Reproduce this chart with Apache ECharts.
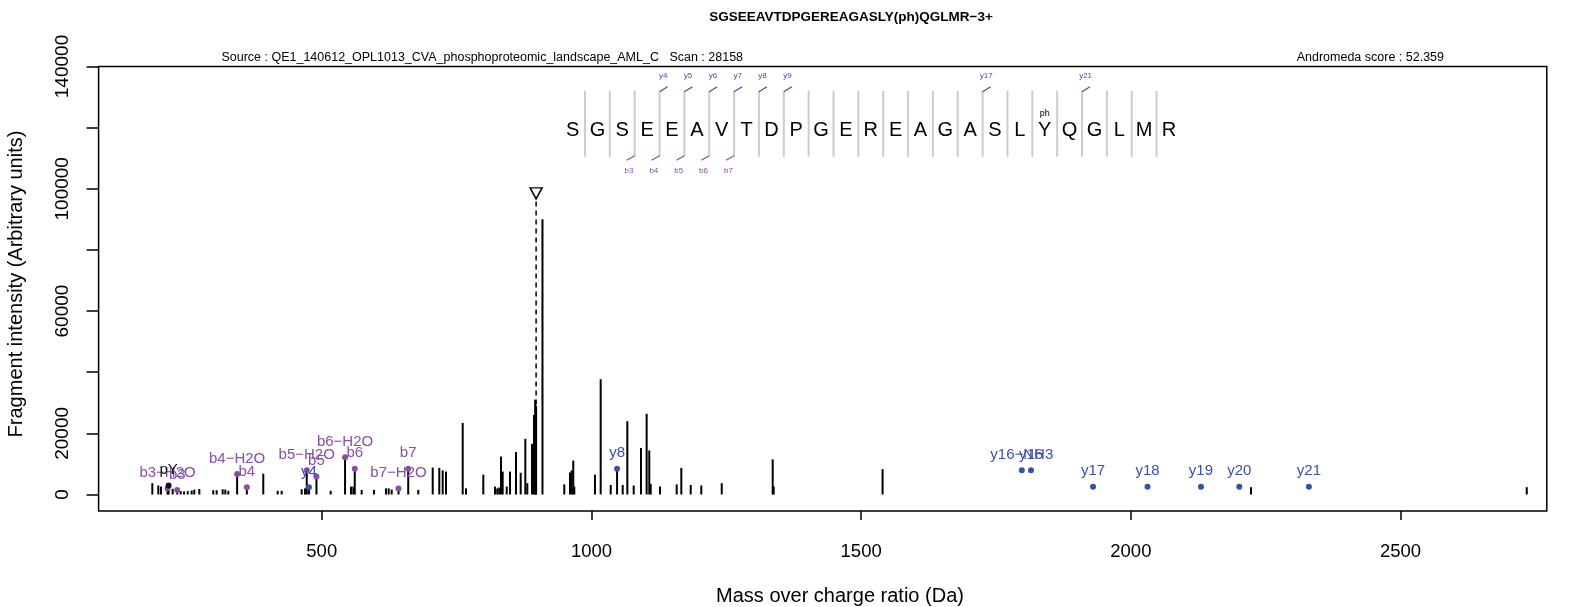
<!DOCTYPE html>
<html>
<head>
<meta charset="utf-8">
<script src="https://cdn.jsdelivr.net/npm/echarts@6/dist/echarts.min.js"></script>
<style>
html, body { margin: 0; padding: 0; background: #fff; }
#spectrum { width: 1578px; height: 607px; }
</style>
</head>
<body>
<div id="spectrum"></div>
<script>
// peptide + scan info
var peptide = ['S','G','S','E','E','A','V','T','D','P','G','E','R','E','A','G','A','S','L','Y','Q','G','L','M','R'];
var phosphoSite = 19;              // index of the Y carrying "ph"
var seqYIons = [4, 5, 6, 7, 8, 9, 17, 21];
var seqBIons = [3, 4, 5, 6, 7];

// raw peaks (m/z , intensity)
var peakMz = [185.9, 197.0, 202.0, 214.1, 216.0, 223.6, 232.1, 238.5, 244.6, 251.5, 258.8, 263.7, 273.0,
  298.9, 305.2, 316.3, 321.2, 326.7, 343.1, 361.1, 391.6, 418.3, 425.7, 462.8, 468.9, 472.2, 476.3, 490.2,
  516.5, 543.2, 554.2, 558.5, 561.2, 574.0, 596.8, 619.1, 624.1, 629.6, 642.3, 660.3, 679.0, 705.7, 717.9,
  724.2, 730.3, 761.3, 767.4, 799.5, 821.2, 825.4, 829.1, 832.3, 835.4, 842.9, 849.0, 860.1, 868.8, 877.4,
  881.1, 889.8, 893.5, 895.6, 897.4, 909.2, 949.6, 960.2, 963.3, 966.3, 968.2, 1006.5, 1017.1, 1035.7,
  1047.5, 1057.9, 1066.5, 1078.3, 1091.8, 1102.3, 1107.2, 1109.8, 1127.1, 1158.0, 1166.6, 1184.0, 1203.6,
  1241.5, 1336.0, 1337.8, 1539.7, 2222.7, 2733.9];
var peakIntensity = [3700, 2950, 2600, 2000, 2950, 1860, 1500, 1100, 1000, 1100, 1300, 1600, 1800,
  1400, 1400, 1700, 1600, 1200, 6700, 2400, 6800, 1200, 1200, 1700, 2000, 7900, 2400, 5900,
  1200, 12200, 2600, 2600, 8400, 1500, 1500, 2000, 2000, 1600, 2000, 8400, 1500, 8800, 8700,
  7900, 7500, 23400, 2000, 6500, 2600, 2000, 2300, 12400, 7500, 2600, 7500, 13900, 7100, 18200,
  3700, 16600, 26000, 31000, 29000, 90000, 3300, 7200, 7900, 11100, 2600, 6500, 37700, 3100,
  8400, 3100, 24000, 2950, 15200, 26400, 14400, 3500, 2600, 3300, 8700, 3100, 2950,
  3700, 11500, 2600, 8300, 2400, 2400];

// annotated fragments
var bIonNames = ['b3-H2O', 'b3', 'b4-H2O', 'b4', 'b5-H2O', 'b5', 'b6-H2O', 'b6', 'b7-H2O', 'b7'];
var bIonMz = [214.08, 232.09, 343.12, 361.13, 472.16, 490.17, 543.20, 561.21, 642.27, 660.28];
var bIonIntensity = [2000, 1500, 6700, 2400, 7900, 5900, 12200, 8400, 2000, 8400];

var yIonNames = ['y4', 'y8', 'y16-NH3', 'y16', 'y17', 'y18', 'y19', 'y20', 'y21'];
var yIonMz = [476.26, 1047.46, 1797.79, 1814.81, 1929.84, 2030.89, 2129.96, 2201.00, 2330.04];
var yIonIntensity = [2400, 8400, 7900, 7900, 2500, 2500, 2500, 2500, 2500];

var immNames = ['pY'];
var immMz = [216.04];
var immIntensity = [2950];

var precursorMz = 897.4;
var precursorMark = 98500;

// axes
var xTicks = [500, 1000, 1500, 2000, 2500];
var yTicks = [0, 20000, 40000, 60000, 80000, 100000, 120000, 140000];
var yTickLabels = [0, 20000, 60000, 100000, 140000];

var FONT = '"Liberation Sans", Arial, sans-serif';
var BLUE = '#3a52a4';
var PURPLE = '#8750a3';

function ionData(names, mz, inten) {
  return names.map(function (n, i) { return [mz[i], inten[i], n.replace('-', '\u2212')]; });
}

function ionSeries(name, data, color) {
  return {
    name: name,
    type: 'scatter',
    xAxisIndex: 0, yAxisIndex: 0,
    data: data,
    symbol: 'circle',
    symbolSize: 6,
    itemStyle: { color: color, opacity: 1 },
    label: {
      show: true,
      position: 'top',
      distance: 5,
      color: color,
      opacity: 1,
      fontSize: 15,
      fontFamily: FONT,
      formatter: function (p) { return p.value[2]; }
    },
    labelLayout: { hideOverlap: false },
    silent: true,
    z: 5
  };
}

function plain(v) { return String(v); }

var chart = echarts.init(document.getElementById('spectrum'));

var option = {
  backgroundColor: '#ffffff',
  animation: false,
  textStyle: { fontFamily: FONT },
  grid: [
    { left: 98.6, top: 66.5, width: 1448.2, height: 444.5, show: true, borderColor: '#000', borderWidth: 1.5 },
    { left: 560.15, top: 90.7, width: 621.25, height: 66, show: false }
  ],
  xAxis: [
    {
      type: 'value', gridIndex: 0, min: 86.3, max: 2771.1,
      splitLine: { show: false },
      axisLine: { show: false, onZero: false },
      axisTick: { show: true, customValues: xTicks, length: 9, lineStyle: { color: '#000', width: 1.5 } },
      axisLabel: { customValues: xTicks, formatter: plain, margin: 31, fontSize: 18.5, color: '#000', fontFamily: FONT }
    },
    { type: 'value', gridIndex: 1, min: 0, max: 25, show: false }
  ],
  yAxis: [
    {
      type: 'value', gridIndex: 0, min: -5400, max: 140000,
      splitLine: { show: false },
      axisLine: { show: false },
      axisTick: { show: true, customValues: yTicks, length: 12, lineStyle: { color: '#000', width: 1.5 } },
      axisLabel: { customValues: yTickLabels, formatter: plain, rotate: 90, margin: 26, fontSize: 19, color: '#000', fontFamily: FONT }
    },
    { type: 'value', gridIndex: 1, min: 0, max: 1, show: false }
  ],
  graphic: [
    { type: 'text', x: 851, y: 17, style: { text: 'SGSEEAVTDPGEREAGASLY(ph)QGLMR\u22123+', font: 'bold 13.5px ' + FONT, fill: '#000', textAlign: 'center', textVerticalAlign: 'middle' } },
    { type: 'text', x: 221.4, y: 57.4, style: { text: 'Source : QE1_140612_OPL1013_CVA_phosphoproteomic_landscape_AML_C   Scan : 28158', font: '12.5px ' + FONT, fill: '#000', textAlign: 'left', textVerticalAlign: 'middle' } },
    { type: 'text', x: 1444, y: 57.4, style: { text: 'Andromeda score : 52.359', font: '12.5px ' + FONT, fill: '#000', textAlign: 'right', textVerticalAlign: 'middle' } },
    { type: 'text', x: 840, y: 596, style: { text: 'Mass over charge ratio (Da)', font: '20px ' + FONT, fill: '#000', textAlign: 'center', textVerticalAlign: 'middle' } },
    { type: 'text', x: 16, y: 284, rotation: Math.PI / 2, style: { text: 'Fragment intensity (Arbitrary units)', font: '20px ' + FONT, fill: '#000', textAlign: 'center', textVerticalAlign: 'middle' } }
  ],
  series: [
    {
      name: 'peaks',
      type: 'custom',
      xAxisIndex: 0, yAxisIndex: 0,
      silent: true,
      data: peakMz.map(function (m, i) { return [m, peakIntensity[i]]; }),
      renderItem: function (params, api) {
        var base = api.coord([api.value(0), 0]);
        var top = api.coord([api.value(0), api.value(1)]);
        return { type: 'line', shape: { x1: base[0], y1: base[1], x2: top[0], y2: top[1] },
                 style: { stroke: '#000', lineWidth: 2 } };
      },
      z: 2
    },
    {
      name: 'precursor line',
      type: 'custom',
      xAxisIndex: 0, yAxisIndex: 0,
      silent: true,
      data: [[precursorMz, precursorMark]],
      renderItem: function (params, api) {
        var base = api.coord([api.value(0), 0]);
        var top = api.coord([api.value(0), api.value(1)]);
        return { type: 'line', shape: { x1: base[0], y1: base[1], x2: top[0], y2: top[1] + 7 },
                 style: { stroke: '#000', lineWidth: 1.5, lineDash: [5, 4] } };
      },
      z: 3
    },
    {
      name: 'precursor',
      type: 'scatter',
      xAxisIndex: 0, yAxisIndex: 0,
      silent: true,
      data: [[precursorMz, precursorMark]],
      symbol: 'triangle',
      symbolRotate: 180,
      symbolSize: [12, 11],
      itemStyle: { color: '#fff', borderColor: '#000', borderWidth: 1.5, opacity: 1 },
      z: 4
    },
    ionSeries('b ions', ionData(bIonNames, bIonMz, bIonIntensity), PURPLE),
    ionSeries('y ions', ionData(yIonNames, yIonMz, yIonIntensity), BLUE),
    ionSeries('immonium', ionData(immNames, immMz, immIntensity), '#111'),
    {
      name: 'sequence',
      type: 'custom',
      xAxisIndex: 1, yAxisIndex: 1,
      silent: true,
      data: peptide.map(function (a, i) { return [i, 0]; }),
      renderItem: function (params, api) {
        var i = api.value(0);
        var c = api.coord([i + 0.5, 0.4]);
        var kids = [{ type: 'text', x: c[0], y: c[1],
          style: { text: peptide[i], font: '20px ' + FONT, fill: '#000', textAlign: 'center', textVerticalAlign: 'middle', align: 'center', verticalAlign: 'middle' } }];
        if (i > 0) {
          var b = api.coord([i, 0]), t = api.coord([i, 1]);
          kids.push({ type: 'line', shape: { x1: b[0], y1: b[1], x2: t[0], y2: t[1] }, style: { stroke: '#cccccc', lineWidth: 2 } });
        }
        if (i === phosphoSite) {
          var p = api.coord([i + 0.5, 0.66]);
          kids.push({ type: 'text', x: p[0], y: p[1],
            style: { text: 'ph', font: '9px ' + FONT, fill: '#000', textAlign: 'center', textVerticalAlign: 'middle', align: 'center', verticalAlign: 'middle' } });
        }
        return { type: 'group', children: kids };
      },
      z: 6
    },
    {
      name: 'y marks',
      type: 'custom',
      xAxisIndex: 1, yAxisIndex: 1,
      silent: true,
      data: seqYIons.map(function (k) { return [k, 1]; }),
      renderItem: function (params, api) {
        var k = api.value(0);
        var t = api.coord([k, 1]);
        return { type: 'group', children: [
          { type: 'line', shape: { x1: t[0], y1: t[1] + 1, x2: t[0] + 8, y2: t[1] - 4 }, style: { stroke: BLUE, lineWidth: 1.2 } },
          { type: 'text', x: t[0] + 3.6, y: t[1] - 14.5,
            style: { text: 'y' + k, font: '8px ' + FONT, fill: BLUE, textAlign: 'center', textVerticalAlign: 'middle', align: 'center', verticalAlign: 'middle' } }
        ] };
      },
      z: 6
    },
    {
      name: 'b marks',
      type: 'custom',
      xAxisIndex: 1, yAxisIndex: 1,
      silent: true,
      data: seqBIons.map(function (k) { return [k, 0]; }),
      renderItem: function (params, api) {
        var k = api.value(0);
        var b = api.coord([k, 0]);
        return { type: 'group', children: [
          { type: 'line', shape: { x1: b[0], y1: b[1] - 1, x2: b[0] - 8, y2: b[1] + 3.5 }, style: { stroke: PURPLE, lineWidth: 1.2 } },
          { type: 'text', x: b[0] - 5.7, y: b[1] + 14.5,
            style: { text: 'b' + k, font: '8px ' + FONT, fill: PURPLE, textAlign: 'center', textVerticalAlign: 'middle', align: 'center', verticalAlign: 'middle' } }
        ] };
      },
      z: 6
    }
  ]
};

chart.setOption(option);
window.addEventListener('resize', function () { chart.resize(); });
</script>
</body>
</html>
